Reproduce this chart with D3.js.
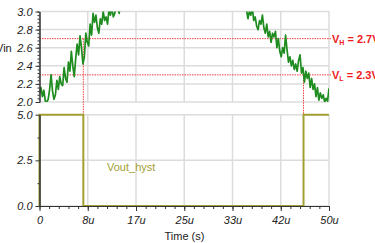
<!DOCTYPE html>
<html>
<head>
<meta charset="utf-8">
<script src="https://cdn.jsdelivr.net/npm/d3@7"></script>
<style>
    body { margin: 0; background: #fff; }
    svg { display: block; font-family: "Liberation Sans", Arial, sans-serif; }
    .grid line { stroke: #dcdcdc; stroke-width: 1.5; }
    .axis path, .axis line { stroke: #333; }
    .axis text { font-size: 11px; font-style: italic; fill: #222; }
</style>
</head>
<body>
<div id="chart"></div>
<script>
// time in microseconds
const vinRiseT = [0, 0.25, 0.5, 0.75, 1, 1.25, 1.5, 1.75, 2, 2.25, 2.5, 2.75, 3, 3.25, 3.5, 3.75, 4, 4.25, 4.5, 4.75,
    5, 5.25, 5.5, 5.75, 6, 6.25, 6.5, 6.75, 7, 7.25, 7.5, 7.75, 8, 8.25, 8.5, 8.75, 9, 9.25, 9.5, 9.75,
    10, 10.25, 10.5, 10.75, 11, 11.25, 11.5, 11.75, 12, 12.25, 12.5, 12.75, 13, 13.25, 13.5, 13.75, 14, 14.5, 15];
const vinRiseV = [2.10, 2.16, 2.06, 2.13, 2.01, 2.00, 2.03, 2.14, 2.30, 2.12, 2.03, 2.08, 2.24, 2.14, 2.28, 2.20, 2.18, 2.38, 2.26, 2.22,
    2.44, 2.34, 2.56, 2.40, 2.28, 2.48, 2.64, 2.52, 2.73, 2.60, 2.42, 2.50, 2.76, 2.66, 2.62, 2.86, 2.74, 2.98, 2.88, 2.96,
    2.82, 2.76, 2.92, 2.86, 3.00, 2.90, 2.94, 2.86, 3.02, 2.96, 3.04, 2.94, 2.98, 3.06, 3.08, 2.98, 3.10, 3.15, 3.20];

const vinFallT = [35, 35.5, 35.75, 36, 36.25, 36.5, 36.75, 37, 37.25, 37.5, 37.75, 38, 38.25, 38.5, 38.75, 39, 39.25, 39.5, 39.75,
    40, 40.25, 40.5, 40.75, 41, 41.25, 41.5, 41.75, 42, 42.25, 42.5, 42.75, 43, 43.25, 43.5, 43.75, 44, 44.25, 44.5, 44.75,
    45, 45.25, 45.5, 45.75, 46, 46.25, 46.5, 46.75, 47, 47.25, 47.5, 47.75, 48, 48.25, 48.5, 48.75, 49, 49.25, 49.5, 49.75, 50];
const vinFallV = [3.20, 3.12, 3.02, 2.92, 3.00, 2.96, 3.04, 2.90, 2.94, 2.84, 2.80, 2.90, 2.86, 2.96, 2.82, 2.76, 2.86, 2.72, 2.78,
    2.66, 2.76, 2.72, 2.78, 2.60, 2.70, 2.56, 2.50, 2.60, 2.54, 2.74, 2.58, 2.44, 2.50, 2.40, 2.46, 2.36, 2.42, 2.34, 2.46,
    2.52, 2.32, 2.38, 2.22, 2.34, 2.26, 2.32, 2.16, 2.26, 2.14, 2.20, 2.06, 2.16, 2.02, 2.10, 2.04, 2.08, 2.00, 2.04, 2.01, 2.15];

const voutT = [0, 0, 7.57, 7.57, 45.6, 45.6, 50];
const voutV = [0, 5, 5, 0, 0, 5, 5];

const thresholds = [2.7, 2.3];
const crossT = [7.57, 45.6];
const xTickVals = [0, 50 / 6, 100 / 6, 25, 200 / 6, 250 / 6, 50];
const xTickLabels = ["0", "8u", "17u", "25u", "33u", "42u", "50u"];
const vinTicks = [2.0, 2.2, 2.4, 2.6, 2.8, 3.0];
const voutTicks = [0, 2.5, 5];

const W = 375, H = 243;
const svg = d3.select("#chart").append("svg").attr("width", W).attr("height", H);

const x = d3.scaleLinear().domain([0, 50]).range([39.5, 329]);
const yTop = d3.scaleLinear().domain([2, 3]).range([102, 11.5]);
const yBot = d3.scaleLinear().domain([0, 5]).range([206, 114.7]);

// grids
function grid(y, ticks) {
    let g = svg.append("g").attr("class", "grid");
    g.selectAll(".v").data(xTickVals).enter().append("line")
        .attr("x1", d => x(d)).attr("x2", d => x(d))
        .attr("y1", y.range()[1]).attr("y2", y.range()[0]);
    g.selectAll(".h").data(ticks).enter().append("line")
        .attr("x1", x(0)).attr("x2", x(50))
        .attr("y1", d => y(d)).attr("y2", d => y(d));
}
grid(yTop, vinTicks);
grid(yBot, voutTicks);

// threshold lines (red dotted)
let red = svg.append("g").attr("stroke", "#f04040").attr("stroke-width", 1).attr("stroke-dasharray", "1.5,1");
red.selectAll(".th").data(thresholds).enter().append("line")
    .attr("x1", x(0)).attr("x2", x(50) + 2)
    .attr("y1", d => yTop(d)).attr("y2", d => yTop(d));
red.selectAll(".vc").data(crossT).enter().append("line")
    .attr("x1", d => x(d)).attr("x2", d => x(d))
    .attr("y1", (d, i) => yTop(thresholds[i])).attr("y2", yBot(5));

// Vin trace, clipped to top plot
svg.append("clipPath").attr("id", "clipTop").append("rect")
    .attr("x", x(0)).attr("y", yTop(3)).attr("width", x(50) - x(0)).attr("height", yTop(2) - yTop(3));

let lineTop = d3.line().x(d => x(d[0])).y(d => yTop(d[1]));
let vinG = svg.append("g").attr("clip-path", "url(#clipTop)");
[d3.zip(vinRiseT, vinRiseV), d3.zip(vinFallT, vinFallV)].forEach(seg => {
    vinG.append("path").datum(seg)
        .attr("fill", "none").attr("stroke", "#1e8c1e").attr("stroke-width", 1.7)
        .attr("stroke-linejoin", "round").attr("d", lineTop);
});

// Vout trace
svg.append("path").datum(d3.zip(voutT, voutV))
    .attr("fill", "none").attr("stroke", "#a3a033").attr("stroke-width", 2)
    .attr("d", d3.line().x(d => x(d[0])).y(d => yBot(d[1])));

// axes
svg.append("g").attr("class", "axis").attr("transform", `translate(${x(0)},0)`)
    .call(d3.axisLeft(yTop).tickValues(vinTicks).tickFormat(d3.format(".1f")).tickSize(4).tickSizeOuter(0));
svg.append("g").attr("class", "axis").attr("transform", `translate(${x(0)},0)`)
    .call(d3.axisLeft(yTop).tickValues(d3.range(2, 3.001, 0.04)).tickFormat("").tickSize(2).tickSizeOuter(0));

svg.append("g").attr("class", "axis").attr("transform", `translate(${x(0)},0)`)
    .call(d3.axisLeft(yBot).tickValues(voutTicks).tickFormat(d3.format(".1f")).tickSize(4).tickSizeOuter(0));
svg.append("g").attr("class", "axis").attr("transform", `translate(${x(0)},0)`)
    .call(d3.axisLeft(yBot).tickValues([1.25, 3.75]).tickFormat("").tickSize(2).tickSizeOuter(0));

svg.append("g").attr("class", "axis").attr("transform", `translate(0,${yBot(0)})`)
    .call(d3.axisBottom(x).tickValues(xTickVals).tickFormat((d, i) => xTickLabels[i]).tickSize(5).tickSizeOuter(0).tickPadding(5));
svg.append("g").attr("class", "axis").attr("transform", `translate(0,${yBot(0)})`)
    .call(d3.axisBottom(x).tickValues(d3.range(0, 50.01, 50 / 30)).tickFormat("").tickSize(3).tickSizeOuter(0));

// labels
svg.append("text").attr("x", -4).attr("y", 52).attr("font-size", 11).attr("fill", "#222").text("Vin");
svg.append("text").attr("x", x(50) / 2 + 20).attr("y", 240).attr("text-anchor", "middle")
    .attr("font-size", 11).attr("fill", "#222").text("Time (s)");
svg.append("text").attr("x", 107).attr("y", 171).attr("font-size", 11).attr("fill", "#a3a033").text("Vout_hyst");

let thLabels = [["H", "2.7V"], ["L", "2.3V"]];
thLabels.forEach((d, i) => {
    let t = svg.append("text").attr("x", 332).attr("y", yTop(thresholds[i]) + 4)
        .attr("font-size", 11).attr("font-weight", "bold").attr("fill", "#ee1c1c");
    t.append("tspan").text("V");
    t.append("tspan").attr("font-size", 7).attr("dy", 2).text(d[0]);
    t.append("tspan").attr("dy", -2).text(" = " + d[1]);
});
</script>
</body>
</html>
